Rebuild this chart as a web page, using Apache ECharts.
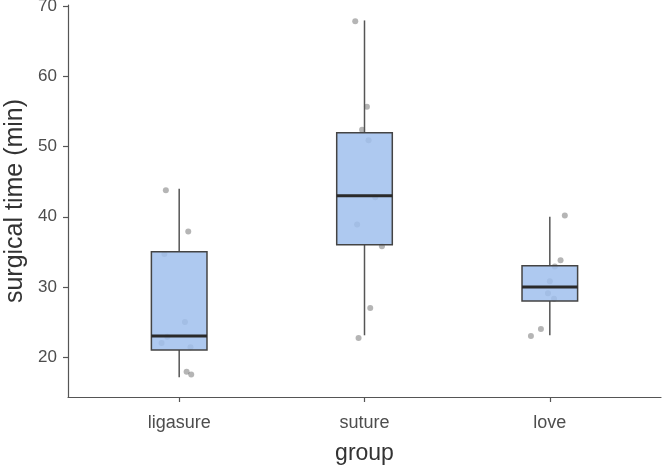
<!DOCTYPE html>
<html>
<head>
<meta charset="utf-8">
<script src="https://cdn.jsdelivr.net/npm/echarts@6/dist/echarts.min.js"></script>
<style>
  html, body { margin: 0; padding: 0; background: #fff; }
  #chart { width: 662px; height: 465px; }
</style>
</head>
<body>
<div id="chart"></div>
<script>
// categories and box statistics
const groups = ['ligasure', 'suture', 'love'];
const boxMin = [17.1, 23.1, 23.1];
const boxQ1 = [21, 36, 28];
const boxMedian = [23, 43, 30];
const boxQ3 = [35, 52, 33];
const boxMax = [44, 68, 40];

// jittered points: [x, value]
const ligasurePoints = [[0.928, 43.8], [1.049, 37.9], [0.92, 34.7], [1.031, 25.0], [0.936, 22.9],
  [0.905, 22.0], [1.061, 21.4], [1.04, 17.9], [1.065, 17.5]];
const suturePoints = [[1.95, 67.9], [2.013, 55.7], [1.987, 52.4], [2.022, 50.9], [2.058, 42.8],
  [1.96, 38.9], [2.094, 35.8], [2.031, 27.0], [1.968, 22.7]];
const lovePoints = [[3.081, 40.2], [3.058, 33.8], [3.027, 32.9], [3.0, 30.8], [2.99, 29.1],
  [3.023, 28.3], [2.952, 24.0], [2.898, 23.0]];

const yTicks = [20, 30, 40, 50, 60, 70];
const xTicks = [1, 2, 3];

const boxData = groups.map((g, i) => [i + 1, boxMin[i], boxQ1[i], boxMedian[i], boxQ3[i], boxMax[i]]);

const chart = echarts.init(document.getElementById('chart'));

const font = 'Liberation Sans, Arial, sans-serif';

const option = {
  animation: false,
  grid: { left: 68, right: 1, top: 5, bottom: 68, outerBoundsMode: 'none', containLabel: false },
  xAxis: {
    type: 'value',
    min: 0.4,
    max: 3.6,
    name: 'group',
    nameLocation: 'middle',
    nameGap: 45,
    nameTextStyle: { color: '#333', fontSize: 23, fontFamily: font },
    axisLine: { show: true, lineStyle: { color: '#555', width: 1.2 } },
    axisTick: { show: true, customValues: xTicks, length: 5, lineStyle: { color: '#555', width: 1.2 } },
    axisLabel: {
      customValues: xTicks,
      formatter: (v) => groups[Math.round(v) - 1] || '',
      color: '#4d4d4d',
      fontSize: 18,
      margin: 17,
      fontFamily: font
    },
    splitLine: { show: false }
  },
  yAxis: {
    type: 'value',
    min: 14.3,
    max: 70.2,
    name: 'surgical time (min)',
    nameLocation: 'middle',
    nameGap: 40,
    nameTextStyle: { color: '#333', fontSize: 25, fontFamily: font },
    axisLine: { show: true, lineStyle: { color: '#555', width: 1.2 } },
    axisTick: { show: true, customValues: yTicks, length: 5, lineStyle: { color: '#555', width: 1.2 } },
    axisLabel: {
      customValues: yTicks,
      color: '#4d4d4d',
      fontSize: 17,
      margin: 11,
      fontFamily: font
    },
    splitLine: { show: false }
  },
  series: [
    {
      type: 'scatter',
      data: ligasurePoints.concat(suturePoints, lovePoints),
      symbolSize: 6,
      z: 2,
      itemStyle: { color: 'rgba(70,70,70,0.5)' }
    },
    {
      type: 'custom',
      data: boxData,
      z: 3,
      renderItem: (params, api) => {
        const x = api.value(0);
        const half = 0.15;
        const pMin = api.coord([x, api.value(1)]);
        const pQ1 = api.coord([x, api.value(2)]);
        const pQ3 = api.coord([x, api.value(4)]);
        const pMax = api.coord([x, api.value(5)]);
        const tl = api.coord([x - half, api.value(4)]);
        const br = api.coord([x + half, api.value(2)]);
        const mL = api.coord([x - half, api.value(3)]);
        const mR = api.coord([x + half, api.value(3)]);
        const whisker = { stroke: '#555', lineWidth: 1.5 };
        return {
          type: 'group',
          children: [
            {
              type: 'line',
              shape: { x1: pMin[0], y1: pMin[1], x2: pQ1[0], y2: pQ1[1] },
              style: whisker
            },
            {
              type: 'line',
              shape: { x1: pQ3[0], y1: pQ3[1], x2: pMax[0], y2: pMax[1] },
              style: whisker
            },
            {
              type: 'rect',
              shape: { x: tl[0], y: tl[1], width: br[0] - tl[0], height: br[1] - tl[1] },
              style: { fill: 'rgba(160,191,237,0.85)', stroke: '#444', lineWidth: 1.5 }
            },
            {
              type: 'line',
              shape: { x1: mL[0], y1: mL[1], x2: mR[0], y2: mR[1] },
              style: { stroke: '#2a2a2a', lineWidth: 3 }
            }
          ]
        };
      }
    }
  ]
};

chart.setOption(option);
</script>
</body>
</html>
